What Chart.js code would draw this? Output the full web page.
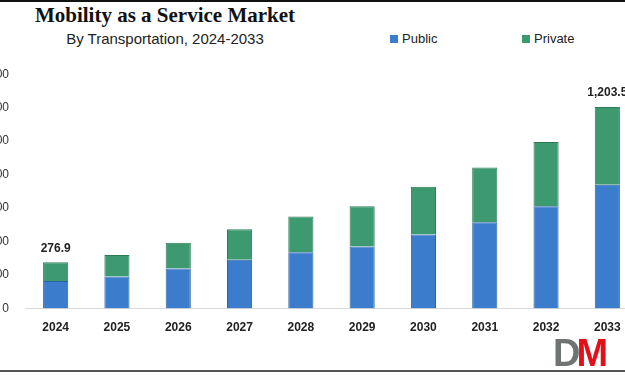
<!DOCTYPE html>
<html lang="en">
<head>
    <meta charset="UTF-8">
    <title>Mobility as a Service Market</title>
    <script src="https://cdn.jsdelivr.net/npm/chart.js"></script>
    <style>
        html, body { margin: 0; padding: 0; background: #fff; }
        body { width: 625px; height: 375px; position: relative; overflow: hidden; font-family: "Liberation Sans", Arial, sans-serif; }
        #grafica { position: absolute; left: -40px; top: 51px; }
        .titulo { position: absolute; left: 0; width: 330px; text-align: center; }
        #t1 { top: 3px; font: bold 21px "Liberation Serif", "Times New Roman", serif; color: #111; }
        #t2 { top: 30px; font: 15px "Liberation Sans", Arial, sans-serif; color: #222; }
        #leyenda { position: absolute; top: 31px; left: 390px; font: 13px "Liberation Sans", Arial, sans-serif; color: #222; }
        .item { position: absolute; white-space: nowrap; }
        .caja { display: inline-block; width: 8px; height: 8px; margin-right: 4px; vertical-align: 0px; }
        .borde-sup { position: absolute; left: 0; top: 0; width: 625px; height: 2px; background: #111; }
        .borde-inf { position: absolute; left: 0; top: 370px; width: 625px; height: 2px; background: #555; }
        #logo { position: absolute; left: 553px; top: 334px; font: bold 38px "Liberation Sans", Arial, sans-serif; letter-spacing: -4px; line-height: 38px; }
    </style>
</head>
<body>
    <div class="borde-sup"></div>
    <div class="titulo" id="t1">Mobility as a Service Market</div>
    <div class="titulo" id="t2">By Transportation, 2024-2033</div>
    <div id="leyenda"></div>
    <canvas id="grafica" width="700" height="296"></canvas>
    <div id="logo"><span style="color:#6f7472">D</span><span style="color:#e3101a">M</span></div>
    <div class="borde-inf"></div>

    <script>
        const anios = ['2024', '2025', '2026', '2027', '2028', '2029', '2030', '2031', '2032', '2033'];
        const publico = [165, 191, 240, 292, 336, 371, 443, 516, 612, 740];
        const privado = [111.9, 129, 153, 182, 214, 241, 285, 327, 383, 463.5];
        const aniosConEtiqueta = ['2024', '2033'];

        // etiqueta del total encima de la barra
        const etiquetasTotal = {
            id: 'etiquetasTotal',
            afterDatasetsDraw(chart) {
                const ctx = chart.ctx;
                const meta = chart.getDatasetMeta(1);
                ctx.save();
                ctx.font = 'bold 12px "Liberation Sans", Arial, sans-serif';
                ctx.fillStyle = '#222';
                ctx.textAlign = 'center';
                ctx.textBaseline = 'bottom';
                anios.forEach((a, i) => {
                    if (!aniosConEtiqueta.includes(a)) return;
                    const total = publico[i] + privado[i];
                    const txt = total.toLocaleString('en-US', { minimumFractionDigits: 1, maximumFractionDigits: 1 });
                    const barra = meta.data[i];
                    ctx.fillText(txt, barra.x, barra.y - 8);
                });
                ctx.restore();
            }
        };

        const ctx = document.getElementById('grafica').getContext('2d');
        const grafica = new Chart(ctx, {
            type: 'bar',
            data: {
                labels: anios,
                datasets: [
                    {
                        label: 'Public',
                        data: publico,
                        backgroundColor: '#3b7dcc',
                        borderColor: '#2c63a6',
                        borderWidth: 1
                    },
                    {
                        label: 'Private',
                        data: privado,
                        backgroundColor: '#3d9a70',
                        borderColor: '#2d7a57',
                        borderWidth: 1
                    }
                ]
            },
            options: {
                responsive: false,
                animation: false,
                devicePixelRatio: 1,
                layout: { padding: { top: 0, right: 22, bottom: 0, left: 0 } },
                datasets: { bar: { barPercentage: 0.41, categoryPercentage: 1 } },
                plugins: {
                    legend: { display: false },
                    tooltip: { enabled: false }
                },
                scales: {
                    x: {
                        stacked: true,
                        grid: { display: false, drawTicks: false },
                        border: { display: true, color: '#d9d9d9', width: 1 },
                        ticks: { padding: 12, color: '#222', font: { family: '"Liberation Sans", Arial, sans-serif', size: 12, weight: 'bold' } }
                    },
                    y: {
                        stacked: true,
                        min: 0,
                        max: 1400,
                        grid: { display: false, drawTicks: false },
                        border: { display: false },
                        ticks: { stepSize: 200, padding: 16, color: '#333', font: { family: '"Liberation Sans", Arial, sans-serif', size: 12 } },
                        afterFit(scale) { scale.width = 65; }
                    }
                }
            },
            plugins: [etiquetasTotal]
        });

        // leyenda en html a partir de los datasets
        const leyenda = document.getElementById('leyenda');
        const posiciones = [0, 132];
        grafica.data.datasets.forEach((ds, i) => {
            let item = document.createElement('div');
            item.className = 'item';
            item.style.left = posiciones[i] + 'px';
            item.innerHTML = `<span class="caja" style="background:${ds.backgroundColor};border:0"></span>${ds.label}`;
            leyenda.appendChild(item);
        });
    </script>
</body>
</html>
